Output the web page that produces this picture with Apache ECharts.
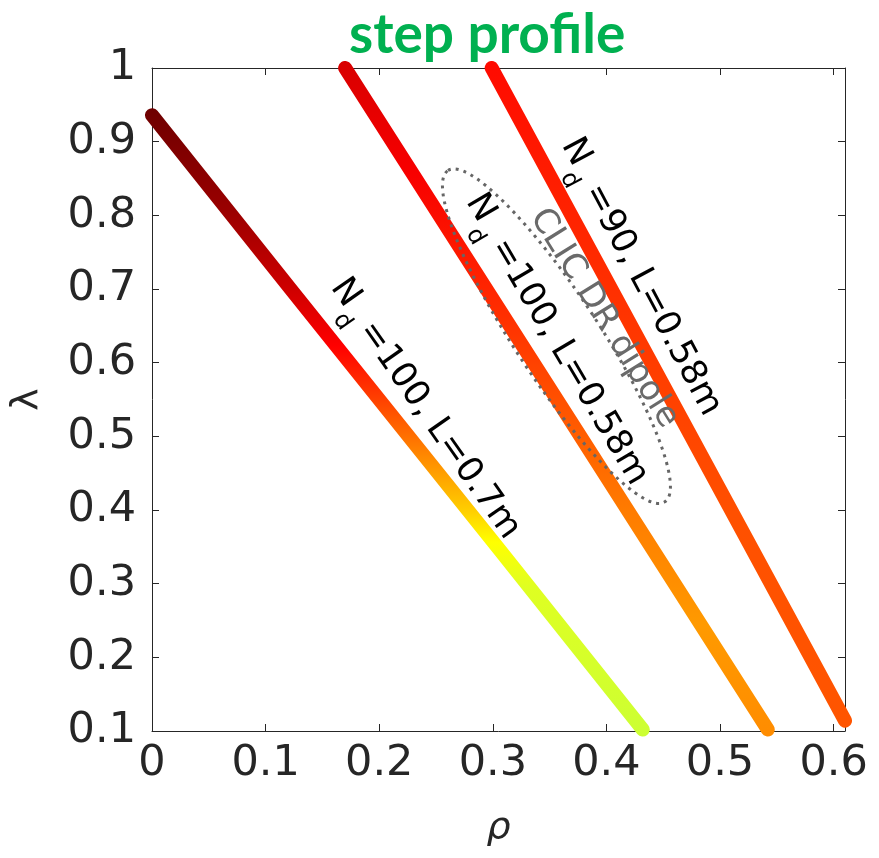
<!DOCTYPE html>
<html><head><meta charset="utf-8">
<script src="https://cdn.jsdelivr.net/npm/echarts@6/dist/echarts.min.js"></script>
<style>html,body{margin:0;padding:0;background:#fff}#c{width:879px;height:858px}</style>
</head><body><div id="c"></div><script>
// ---- data ----
const xTickValues = [0, 0.1, 0.2, 0.3, 0.4, 0.5, 0.6];
const yTickValues = [0.1, 0.2, 0.3, 0.4, 0.5, 0.6, 0.7, 0.8, 0.9, 1];
// N_d=100, L=0.7m
const rho1 = [0, 0.122, 0.306, 0.432];
const lam1 = [0.936, 0.7, 0.346, 0.102];
// N_d=100, L=0.58m
const rho2 = [0.170, 0.542];
const lam2 = [1.0, 0.102];
// N_d=90, L=0.58m
const rho3 = [0.299, 0.610];
const lam3 = [1.0, 0.114];
// colour along each curve (lambda -> colour)
const cLam1 = [0.936, 0.8, 0.7, 0.62, 0.55, 0.5, 0.45, 0.4, 0.36, 0.3, 0.1];
const cCol1 = ['#6e0000','#9a0000','#cc0000','#ff0000','#ff4000','#ff7000','#ffa000','#ffd000','#ffff00','#dfff22','#ccff33'];
const cLam2 = [1.0, 0.85, 0.7, 0.55, 0.4, 0.25, 0.1];
const cCol2 = ['#d80000','#f80000','#ff2400','#ff5000','#ff7c00','#ff9a00','#ff8c00'];
const cLam3 = [1.0, 0.8, 0.6, 0.4, 0.114];
const cCol3 = ['#ff0a00','#ff2200','#ff3c00','#ff5000','#ff5500'];

const FONT = 'DejaVu Sans';
const AX = '#262626';

function zip(a, b) { return a.map((v, i) => [v, b[i]]); }
function grad(lams, cols, top, bottom) {
  return new echarts.graphic.LinearGradient(0, 0, 0, 1,
    lams.map((l, i) => ({ offset: Math.min(1, Math.max(0, (top - l) / (top - bottom))), color: cols[i] })));
}
function lineSeries(r, l, cl, cc) {
  const top = Math.max(...l), bot = Math.min(...l);
  return {
    type: 'line', data: zip(r, l), showSymbol: false, symbol: 'none', silent: true,
    lineStyle: { width: 14, cap: 'round', join: 'round', color: grad(cl, cc, top, bot) }
  };
}

const chart = echarts.init(document.getElementById('c'));
const axisCommon = {
  axisLine: { show: true, onZero: false, lineStyle: { color: AX, width: 1 } },
  axisTick: { show: true, inside: true, length: 7, lineStyle: { color: AX } },
  splitLine: { show: false }
};
chart.setOption({
  animation: false,
  backgroundColor: '#fff',
  title: {
    text: 'step profile', left: 344, top: 3,
    textStyle: { fontFamily: 'Lato', fontWeight: 'bold', fontSize: 55, color: '#00b050' }
  },
  grid: { left: 152, right: 34, top: 68, bottom: 127 },
  xAxis: [
    Object.assign({ type: 'value', min: 0, max: 0.61, interval: 0.1, position: 'bottom',
      name: 'ρ', nameLocation: 'middle', nameGap: 78,
      nameTextStyle: { fontFamily: FONT, fontSize: 38, color: AX, fontStyle: 'italic' },
      axisLabel: { fontFamily: FONT, fontSize: 43, color: AX, margin: 11, showMaxLabel: false,
        formatter: v => xTickValues.some(t => Math.abs(t - v) < 1e-9) ? String(+v.toFixed(1)) : '' } }, axisCommon),
    Object.assign({ type: 'value', min: 0, max: 0.61, interval: 0.1, position: 'top',
      axisLabel: { show: false } }, axisCommon)
  ],
  yAxis: [
    Object.assign({ type: 'value', min: 0.1, max: 1, interval: 0.1, position: 'left',
      name: 'λ', nameLocation: 'middle', nameGap: 106, nameRotate: 90,
      nameTextStyle: { fontFamily: FONT, fontSize: 38, color: AX },
      axisLabel: { fontFamily: FONT, fontSize: 43, color: AX, margin: 16,
        formatter: v => yTickValues.some(t => Math.abs(t - v) < 1e-9) ? String(+v.toFixed(1)) : '' } }, axisCommon),
    Object.assign({ type: 'value', min: 0.1, max: 1, interval: 0.1, position: 'right',
      axisLabel: { show: false } }, axisCommon)
  ],
  series: [
    lineSeries(rho3, lam3, cLam3, cCol3),
    lineSeries(rho2, lam2, cLam2, cCol2),
    lineSeries(rho1, lam1, cLam1, cCol1)
  ]
});

// ---- annotations (anchored in data coordinates) ----
const annots = [
  { main: 'N', sub: 'd', rest: '=100, L=0.7m', at: [0.170, 0.695], angle: 55 },
  { main: 'N', sub: 'd', rest: '=100, L=0.58m', at: [0.289, 0.810], angle: 59.5 },
  { main: 'N', sub: 'd', rest: '=90, L=0.58m', at: [0.373, 0.886], angle: 62 }
];
const toPx = p => chart.convertToPixel({ xAxisIndex: 0, yAxisIndex: 0 }, p);
const graphics = [];
const ell = toPx([0.356, 0.636]);
graphics.push({
  type: 'ellipse', x: ell[0], y: ell[1], rotation: -56.8 * Math.PI / 180, z: 50,
  shape: { cx: 0, cy: 0, rx: 198, ry: 42 },
  style: { fill: null, stroke: '#666666', lineWidth: 3, lineDash: [3, 5] }
});
const clic = toPx([0.398, 0.660]);
graphics.push({
  type: 'text', x: clic[0], y: clic[1], rotation: -58 * Math.PI / 180, z: 60,
  style: { text: 'CLIC DR dipole', fontFamily: FONT, fontSize: 34, fill: '#6a6a6a',
    textAlign: 'center', textVerticalAlign: 'middle', verticalAlign: 'middle' }
});
annots.forEach(a => {
  const p = toPx(a.at);
  graphics.push({
    type: 'group', x: p[0], y: p[1], rotation: -a.angle * Math.PI / 180, z: 60,
    children: [
      { type: 'text', x: 0, y: 0, z: 60, style: { text: a.main, fontFamily: FONT, fontSize: 35, fill: '#000',
        textAlign: 'center', textVerticalAlign: 'middle', verticalAlign: 'middle' } },
      { type: 'text', x: 22, y: 19, z: 60, style: { text: a.sub, fontFamily: FONT, fontSize: 24, fill: '#000',
        textAlign: 'center', textVerticalAlign: 'middle', verticalAlign: 'middle' } },
      { type: 'text', x: 38, y: 2, z: 60, style: { text: a.rest, fontFamily: FONT, fontSize: 35, fill: '#000',
        textAlign: 'left', textVerticalAlign: 'middle', verticalAlign: 'middle' } }
    ]
  });
});
chart.setOption({ graphic: graphics });
</script></body></html>
